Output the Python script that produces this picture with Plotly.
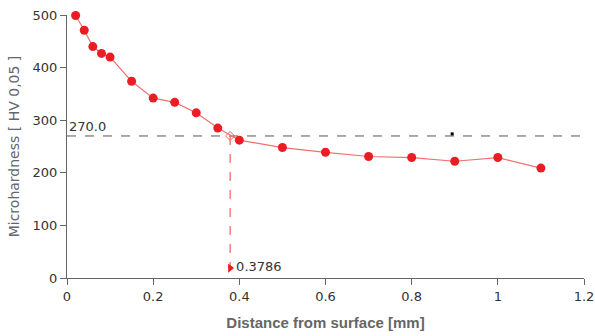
import plotly.graph_objects as go

distance_mm = [0.02, 0.04, 0.06, 0.08, 0.10, 0.15, 0.20, 0.25, 0.30, 0.35,
               0.40, 0.50, 0.60, 0.70, 0.80, 0.90, 1.00, 1.10]
hardness_hv = [499, 471, 440, 427, 420, 374, 342, 334, 314, 285,
               262, 248, 239, 231, 229, 222, 229, 209]
threshold_hv = 270.0
crossing_mm = 0.3786
x_ticks = [0, 0.2, 0.4, 0.6, 0.8, 1.0, 1.2]
x_tick_labels = ["0", "0.2", "0.4", "0.6", "0.8", "1", "1.2"]
y_ticks = [0, 100, 200, 300, 400, 500]
stray_mark = (0.894, 274)

RED = "#ec1c24"
font_fam = "Tahoma, 'DejaVu Sans', sans-serif"

fig = go.Figure()

fig.add_trace(go.Scatter(
    x=[0, 1.2], y=[threshold_hv, threshold_hv], mode="lines",
    line=dict(color="#555555", width=1, dash="dash"), hoverinfo="skip", showlegend=False))

fig.add_trace(go.Scatter(
    x=[crossing_mm, crossing_mm], y=[threshold_hv, 0], mode="lines",
    line=dict(color="#f04040", width=1, dash="dash"), hoverinfo="skip", showlegend=False))

fig.add_trace(go.Scatter(
    x=distance_mm, y=hardness_hv, mode="lines+markers", cliponaxis=False,
    line=dict(color="#f07070", width=1.2),
    marker=dict(color=RED, size=9, line=dict(width=0)),
    showlegend=False))

fig.add_trace(go.Scatter(
    x=[crossing_mm], y=[threshold_hv], mode="markers",
    marker=dict(symbol="diamond-open", color="#f06060", size=7, line=dict(width=1)),
    showlegend=False))

fig.add_trace(go.Scatter(
    x=[stray_mark[0]], y=[stray_mark[1]], mode="markers",
    marker=dict(symbol="square", color="black", size=3, line=dict(width=0)),
    hoverinfo="skip", showlegend=False))

fig.add_trace(go.Scatter(
    x=[crossing_mm], y=[19], mode="markers+text",
    marker=dict(symbol="triangle-right", color=RED, size=8),
    text=["0.3786"], textposition="middle right",
    textfont=dict(family=font_fam, size=13, color="#333333"),
    showlegend=False))

fig.add_annotation(x=0, y=threshold_hv, xref="x", yref="y", text="270.0",
                   showarrow=False, xanchor="left", yanchor="bottom",
                   font=dict(family=font_fam, size=13, color="#333333"))

fig.update_layout(
    width=595, height=336,
    margin=dict(l=67, r=11, t=15, b=58),
    paper_bgcolor="white", plot_bgcolor="white",
    font=dict(family=font_fam, size=13, color="#333333"),
)
fig.update_xaxes(
    range=[0, 1.2], tickvals=x_ticks, ticktext=x_tick_labels, automargin=False,
    showgrid=False, zeroline=False, showline=True, linecolor="#666666", linewidth=1,
    ticks="outside", ticklen=6, tickcolor="#666666",
    title=dict(text="<b>Distance from surface [mm]</b>",
               font=dict(family="'Liberation Sans', Arial, sans-serif", size=15, color="#666666"),
               standoff=14),
)
fig.update_yaxes(
    range=[0, 500], tickvals=y_ticks, automargin=False,
    showgrid=False, zeroline=False, showline=True, linecolor="#666666", linewidth=1,
    ticks="outside", ticklen=6, tickcolor="#666666",
    title=dict(text="Microhardness [ HV 0,05 ]",
               font=dict(family="'DejaVu Sans', sans-serif", size=14, color="#626670"),
               standoff=9),
)

fig.write_html("out.html", config={"displayModeBar": False},
               post_script="document.body.style.margin='0px';")
